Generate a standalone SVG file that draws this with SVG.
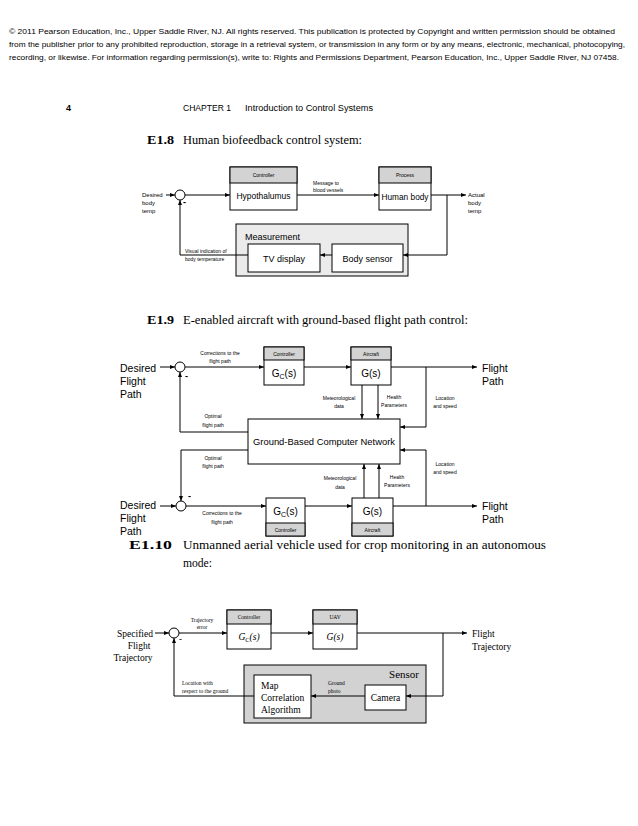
<svg xmlns="http://www.w3.org/2000/svg" width="638" height="826" viewBox="0 0 638 826">
<defs>
<marker id="ar" markerWidth="5" markerHeight="4" refX="5" refY="2" orient="auto" markerUnits="userSpaceOnUse">
<path d="M0,0 L5,2 L0,4 z" fill="#000"/>
</marker>
<style>
.ln{stroke:#000;stroke-width:1;fill:none}
.bx{stroke:#000;stroke-width:1;fill:#fff}
.hd{stroke:#000;stroke-width:1;fill:#d3d3d3}
.s{font-family:"Liberation Sans",Arial,sans-serif;fill:#000}
.r{font-family:"Liberation Serif","Times New Roman",serif;fill:#000}
.cm{font-family:"Liberation Serif","Times New Roman",serif;fill:#000}
.t5{font-size:5px}
.t55{font-size:5.5px}
.t6{font-size:6px}
.m{text-anchor:middle}
.e{text-anchor:end}
</style>
</defs>
<rect width="638" height="826" fill="#fff"/>

<g id="header" class="s" font-size="7.8">
<text x="9" y="34" textLength="606" lengthAdjust="spacingAndGlyphs">© 2011 Pearson Education, Inc., Upper Saddle River, NJ. All rights reserved. This publication is protected by Copyright and written permission should be obtained</text>
<text x="9" y="47" textLength="616" lengthAdjust="spacingAndGlyphs">from the publisher prior to any prohibited reproduction, storage in a retrieval system, or transmission in any form or by any means, electronic, mechanical, photocopying,</text>
<text x="9" y="60" textLength="610" lengthAdjust="spacingAndGlyphs">recording, or likewise. For information regarding permission(s), write to: Rights and Permissions Department, Pearson Education, Inc., Upper Saddle River, NJ 07458.</text>
</g>

<g id="pagehead" class="s">
<text x="66" y="111" font-size="9" font-weight="bold">4</text>
<text x="183" y="111" font-size="8.5" textLength="48" lengthAdjust="spacingAndGlyphs">CHAPTER 1</text>
<text x="245" y="111" font-size="8.5" textLength="128" lengthAdjust="spacingAndGlyphs">Introduction to Control Systems</text>
</g>

<g id="titles" class="cm" font-size="11.5">
<text x="147" y="144" font-weight="bold" textLength="27" lengthAdjust="spacingAndGlyphs">E1.8</text>
<text x="183" y="144" textLength="179" lengthAdjust="spacingAndGlyphs">Human biofeedback control system:</text>
<text x="147" y="324" font-weight="bold" textLength="27" lengthAdjust="spacingAndGlyphs">E1.9</text>
<text x="183" y="324" textLength="285" lengthAdjust="spacingAndGlyphs">E-enabled aircraft with ground-based flight path control:</text>
<text x="129" y="549" font-weight="bold" textLength="43" lengthAdjust="spacingAndGlyphs">E1.10</text>
<text x="183" y="549" textLength="363" lengthAdjust="spacingAndGlyphs">Unmanned aerial vehicle used for crop monitoring in an autonomous</text>
<text x="183" y="567" textLength="29" lengthAdjust="spacingAndGlyphs">mode:</text>
</g>

<!-- ===== E1.8 ===== -->
<g id="e18-measurement">
<rect x="236" y="224" width="172" height="52" fill="#ebebeb" stroke="#000"/>
<text class="s" x="245" y="240" font-size="9">Measurement</text>
</g>
<g id="e18-sum"><circle cx="180" cy="195" r="5" class="bx"/><text class="s" x="183" y="205" font-size="9" font-weight="bold">-</text></g>
<g id="e18-controller">
<rect x="230" y="167" width="67" height="43" class="bx"/>
<rect x="230" y="167" width="67" height="16" class="hd"/>
<text class="s t5 m" x="263.5" y="177">Controller</text>
<text class="s m" x="263.5" y="199" font-size="9" textLength="54" lengthAdjust="spacingAndGlyphs">Hypothalumus</text>
</g>
<g id="e18-process">
<rect x="379" y="167" width="52" height="43" class="bx"/>
<rect x="379" y="167" width="52" height="16" class="hd"/>
<text class="s t5 m" x="405" y="177">Process</text>
<text class="s m" x="405" y="200" font-size="9" textLength="47" lengthAdjust="spacingAndGlyphs">Human body</text>
</g>
<g id="e18-tv">
<rect x="248" y="244" width="72" height="28" class="bx"/>
<text class="s m" x="284" y="262" font-size="9">TV display</text>
</g>
<g id="e18-sensor">
<rect x="332" y="244" width="71" height="28" class="bx"/>
<text class="s m" x="367.5" y="262" font-size="9">Body sensor</text>
</g>
<g id="e18-labels" class="s t6">
<text x="142" y="197">Desired</text><text x="142" y="205">body</text><text x="142" y="213">temp</text>
<text x="468" y="197">Actual</text><text x="468" y="205">body</text><text x="468" y="213">temp</text>
<text x="313" y="185" class="t5">Message to</text><text x="313" y="192" class="t5">blood vessels</text>
<text x="185" y="253" class="t5">Visual indication of</text><text x="185" y="261" class="t5">body temperature</text>
</g>
<g id="e18-connectors" class="ln">
<line x1="166" y1="195" x2="175" y2="195" marker-end="url(#ar)"/>
<line x1="185" y1="195" x2="230" y2="195" marker-end="url(#ar)"/>
<line x1="297" y1="195" x2="379" y2="195" marker-end="url(#ar)"/>
<line x1="431" y1="195" x2="466" y2="195" marker-end="url(#ar)"/>
<polyline points="447,195 447,255 403,255" marker-end="url(#ar)"/>
<line x1="332" y1="255" x2="320" y2="255" marker-end="url(#ar)"/>
<polyline points="248,255 180,255 180,200" marker-end="url(#ar)"/>
</g>

<!-- ===== E1.9 top ===== -->
<g id="e19a-sum"><circle cx="180" cy="367" r="5" class="bx"/><text class="s" x="185" y="379" font-size="9" font-weight="bold">-</text></g>
<g id="e19a-controller">
<rect x="264" y="347" width="40" height="38" class="bx"/>
<rect x="264" y="347" width="40" height="13" class="hd"/>
<text class="s t5 m" x="284" y="356">Controller</text>
<text class="s m" x="284" y="377" font-size="10">G<tspan font-size="7" dy="2">C</tspan><tspan dy="-2">(s)</tspan></text>
</g>
<g id="e19a-aircraft">
<rect x="351" y="347" width="40" height="38" class="bx"/>
<rect x="351" y="347" width="40" height="13" class="hd"/>
<text class="s t5 m" x="371" y="356">Aircraft</text>
<text class="s m" x="371" y="377" font-size="10">G(s)</text>
</g>
<g id="e19-gbcn">
<rect x="248" y="419" width="152" height="45" class="bx"/>
<text class="s m" x="324" y="445" font-size="9.5" textLength="142" lengthAdjust="spacingAndGlyphs">Ground-Based Computer Network</text>
</g>
<g id="e19a-labels" class="s">
<text x="120" y="372" font-size="10.5">Desired</text><text x="120" y="385" font-size="10.5">Flight</text><text x="120" y="398" font-size="10.5">Path</text>
<text x="482" y="372" font-size="10.5">Flight</text><text x="482" y="385" font-size="10.5">Path</text>
<text x="220" y="355" class="t5 m">Corrections to the</text><text x="220" y="363" class="t5 m">flight path</text>
<text x="339" y="400" class="t5 m">Meteorological</text><text x="339" y="408" class="t5 m">data</text>
<text x="394" y="399" class="t5 m">Health</text><text x="394" y="407" class="t5 m">Parameters</text>
<text x="445" y="400" class="t5 m">Location</text><text x="445" y="408" class="t5 m">and speed</text>
<text x="213" y="418" class="t5 m">Optimal</text><text x="213" y="427" class="t5 m">flight path</text>
</g>
<g id="e19a-connectors" class="ln">
<line x1="160" y1="367" x2="175" y2="367" marker-end="url(#ar)"/>
<line x1="185" y1="367" x2="264" y2="367" marker-end="url(#ar)"/>
<line x1="304" y1="367" x2="351" y2="367" marker-end="url(#ar)"/>
<line x1="391" y1="367" x2="477" y2="367" marker-end="url(#ar)"/>
<polyline points="426,367 426,427 400,427" marker-end="url(#ar)"/>
<line x1="362" y1="385" x2="362" y2="419" marker-end="url(#ar)"/>
<line x1="378" y1="385" x2="378" y2="419" marker-end="url(#ar)"/>
<polyline points="248,432 180,432 180,372" marker-end="url(#ar)"/>
</g>

<!-- ===== E1.9 bottom ===== -->
<g id="e19b-sum"><circle cx="181" cy="506" r="5" class="bx"/><text class="s" x="188" y="499" font-size="9" font-weight="bold">-</text></g>
<g id="e19b-controller">
<rect x="266" y="498" width="39" height="38" class="bx"/>
<rect x="266" y="523" width="39" height="13" class="hd"/>
<text class="s t5 m" x="285.5" y="532">Controller</text>
<text class="s m" x="285.5" y="515" font-size="10">G<tspan font-size="7" dy="2">C</tspan><tspan dy="-2">(s)</tspan></text>
</g>
<g id="e19b-aircraft">
<rect x="352" y="498" width="41" height="38" class="bx"/>
<rect x="352" y="523" width="41" height="13" class="hd"/>
<text class="s t5 m" x="372.5" y="532">Aircraft</text>
<text class="s m" x="372.5" y="515" font-size="10">G(s)</text>
</g>
<g id="e19b-labels" class="s">
<text x="120" y="509" font-size="10.5">Desired</text><text x="120" y="522" font-size="10.5">Flight</text><text x="120" y="535" font-size="10.5">Path</text>
<text x="482" y="510" font-size="10.5">Flight</text><text x="482" y="523" font-size="10.5">Path</text>
<text x="222" y="515" class="t5 m">Corrections to the</text><text x="222" y="524" class="t5 m">flight path</text>
<text x="340" y="480" class="t5 m">Meteorological</text><text x="340" y="489" class="t5 m">data</text>
<text x="397" y="479" class="t5 m">Health</text><text x="397" y="487" class="t5 m">Parameters</text>
<text x="445" y="466" class="t5 m">Location</text><text x="445" y="474" class="t5 m">and speed</text>
<text x="213" y="460" class="t5 m">Optimal</text><text x="213" y="468" class="t5 m">flight path</text>
</g>
<g id="e19b-connectors" class="ln">
<line x1="160" y1="506" x2="176" y2="506" marker-end="url(#ar)"/>
<line x1="186" y1="506" x2="266" y2="506" marker-end="url(#ar)"/>
<line x1="305" y1="506" x2="352" y2="506" marker-end="url(#ar)"/>
<line x1="393" y1="506" x2="477" y2="506" marker-end="url(#ar)"/>
<polyline points="426,506 426,450 400,450" marker-end="url(#ar)"/>
<line x1="364" y1="498" x2="364" y2="464" marker-end="url(#ar)"/>
<line x1="379" y1="498" x2="379" y2="464" marker-end="url(#ar)"/>
<polyline points="248,450 181,450 181,501" marker-end="url(#ar)"/>
</g>

<!-- ===== E1.10 ===== -->
<g id="e110-sensor">
<rect x="244" y="665" width="182" height="58" fill="#d2d2d2" stroke="#000"/>
<text class="r e" x="419" y="678" font-size="11">Sensor</text>
</g>
<g id="e110-sum"><circle cx="174" cy="633" r="5" class="bx"/><text class="r" x="179" y="642" font-size="9" font-weight="bold">-</text></g>
<g id="e110-controller">
<rect x="227" y="610" width="44" height="39" class="bx"/>
<rect x="227" y="610" width="44" height="14" class="hd"/>
<text class="r t55 m" x="249" y="619">Controller</text>
<text class="r m" x="249" y="640" font-size="9.5" font-style="italic">G<tspan font-size="6.5" dy="2" font-style="normal">C</tspan><tspan dy="-2">(s)</tspan></text>
</g>
<g id="e110-uav">
<rect x="313" y="610" width="44" height="39" class="bx"/>
<rect x="313" y="610" width="44" height="14" class="hd"/>
<text class="r t55 m" x="335" y="619">UAV</text>
<text class="r m" x="335" y="640" font-size="9.5" font-style="italic">G(s)</text>
</g>
<g id="e110-map">
<rect x="254" y="675" width="57" height="43" class="bx"/>
<text class="r" x="261" y="689" font-size="9.5">Map</text>
<text class="r" x="261" y="701" font-size="9.5">Correlation</text>
<text class="r" x="261" y="713" font-size="9.5">Algorithm</text>
</g>
<g id="e110-camera">
<rect x="365" y="685" width="41" height="25" class="bx"/>
<text class="r m" x="385.5" y="701" font-size="9.5">Camera</text>
</g>
<g id="e110-labels" class="r">
<text x="135" y="637" font-size="9.5" class="m">Specified</text>
<text x="139" y="649" font-size="9.5" class="m">Flight</text>
<text x="133" y="661" font-size="9.5" class="m">Trajectory</text>
<text x="472" y="637" font-size="9.5">Flight</text>
<text x="472" y="650" font-size="9.5">Trajectory</text>
<text x="202" y="622" class="t55 m">Trajectory</text><text x="202" y="629" class="t55 m">error</text>
<text x="328" y="685" class="t55">Ground</text><text x="328" y="693" class="t55">photo</text>
<text x="182" y="685" class="t55">Location with</text><text x="182" y="693" class="t55">respect to the ground</text>
</g>
<g id="e110-connectors" class="ln">
<line x1="155" y1="633" x2="169" y2="633" marker-end="url(#ar)"/>
<line x1="179" y1="633" x2="227" y2="633" marker-end="url(#ar)"/>
<line x1="271" y1="633" x2="313" y2="633" marker-end="url(#ar)"/>
<line x1="357" y1="633" x2="467" y2="633" marker-end="url(#ar)"/>
<polyline points="443,633 443,696 406,696" marker-end="url(#ar)"/>
<line x1="365" y1="696" x2="311" y2="696" marker-end="url(#ar)"/>
<polyline points="254,696 174,696 174,638" marker-end="url(#ar)"/>
</g>
</svg>
